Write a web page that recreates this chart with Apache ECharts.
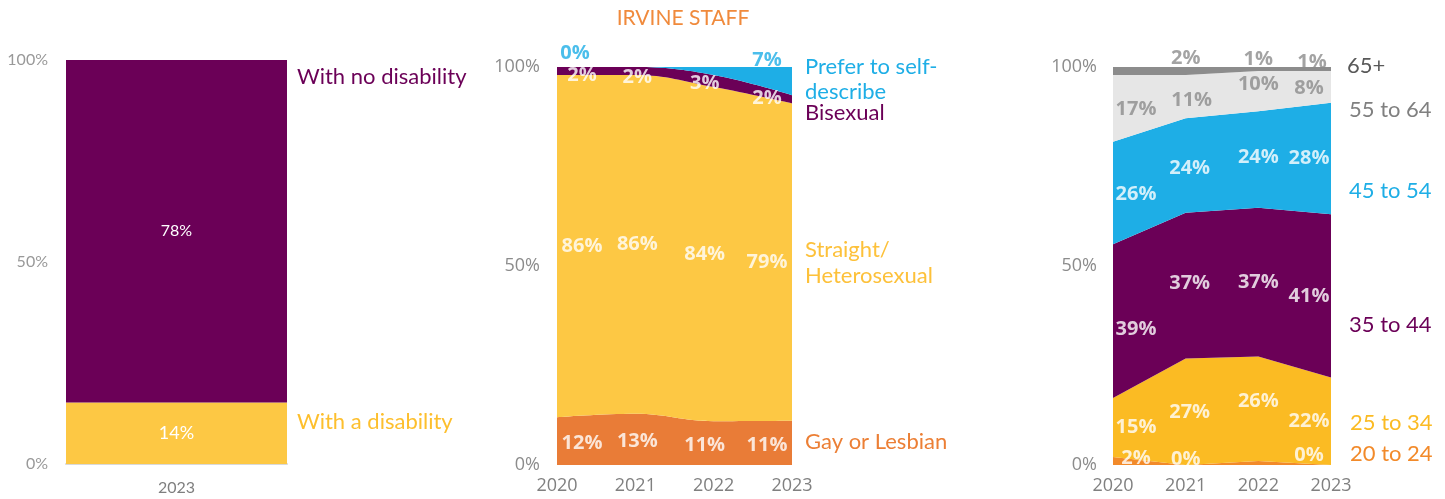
<!DOCTYPE html>
<html>
<head>
<meta charset="utf-8">
<script src="https://cdn.jsdelivr.net/npm/echarts@6/dist/echarts.min.js"></script>
<style>
html,body{margin:0;padding:0;background:#fff;}
#chart{width:1445px;height:499px;}
</style>
</head>
<body>
<div id="chart"></div>
<script>
// ---------- DATA ----------
const disabilityYears = ['2023'];
const withDisability = [14];
const noDisability = [78];

const sexYears = ['2020', '2021', '2022', '2023'];
const gayLesbian = [12, 13, 11, 11];
const straight = [86, 86, 84, 79];
const bisexual = [2, 2, 3, 2];
const selfDescribe = [0, 0, 2, 7];

const ageYears = ['2020', '2021', '2022', '2023'];
const age20to24 = [2, 0, 1, 0];
const age25to34 = [15, 27, 26, 22];
const age35to44 = [39, 37, 37, 41];
const age45to54 = [26, 24, 24, 28];
const age55to64 = [17, 11, 10, 8];
const age65plus = [2, 2, 1, 1];

const yTickValues = [0, 50, 100];

// ---------- STYLE ----------
const PURPLE = '#6b0057', YELLOW = '#fdc844', YELLOW3 = '#fbbb23', ORANGE = '#e97c37',
      ORANGE3 = '#f28a2a', BLUE = '#1eaee6', LGRAY = '#e6e6e6', DGRAY = '#8c8c8c';
const LBL = 'Open Sans';

// normalise each column of a stack to 100%
function normalise(list) {
  const n = list[0].length;
  const sums = [];
  for (let i = 0; i < n; i++) { let s = 0; list.forEach(a => s += a[i]); sums.push(s); }
  return list.map(a => a.map((v, i) => v * 100 / sums[i]));
}

const disN = normalise([withDisability, noDisability]);
const sexRaw = [gayLesbian, straight, bisexual, selfDescribe];
const sexN = normalise(sexRaw);
const ageRaw = [age20to24, age25to34, age35to44, age45to54, age55to64, age65plus];
const ageN = normalise(ageRaw);

// label points at the middle of each band
function midLabels(raw, norm, band, offs, color, size, gridIdx) {
  const data = [];
  for (let i = 0; i < raw[band].length; i++) {
    const o = offs[i];
    if (!o) continue;
    let base = 0;
    for (let b = 0; b < band; b++) base += norm[b][i];
    data.push({
      value: [i, Math.min(100, base + norm[band][i] / 2)],
      label: { offset: [o[0], o[1]], formatter: raw[band][i] + '%' }
    });
  }
  return {
    type: 'scatter', xAxisIndex: gridIdx, yAxisIndex: gridIdx, symbolSize: 1,
    itemStyle: { color: 'rgba(0,0,0,0)' }, silent: true, z: 10, clip: false,
    label: { show: true, position: 'inside', color: color, fontFamily: LBL,
             fontWeight: 'bold', fontSize: size },
    data: data
  };
}

function areaSeries(name, values, color, gridIdx, stack, smooth) {
  return {
    name: name, type: 'line', stack: stack, xAxisIndex: gridIdx, yAxisIndex: gridIdx,
    data: values, symbol: 'none', smooth: smooth, lineStyle: { width: 0 },
    areaStyle: { color: color, opacity: 1 }, itemStyle: { color: color }, silent: true
  };
}

const yAxisBase = (gridIdx, fam, size, color, margin) => ({
  type: 'value', gridIndex: gridIdx, min: 0, max: 100, interval: 50,
  splitLine: { show: false }, axisLine: { show: false }, axisTick: { show: false },
  axisLabel: { formatter: '{value}%', fontFamily: fam, fontSize: size, color: color, margin: margin,
    customValues: yTickValues }
});

const xOff2 = [25, 2, -9, -25];

const legendText = (txt, x, y, color) => ({
  type: 'text', x: x, y: y,
  style: { text: txt, fill: color, font: '22px Lato', textVerticalAlign: 'middle', verticalAlign: 'middle' }
});

const DL = 20; // data label size

const option = {
  animation: false,
  grid: [
    { left: 66, top: 60, width: 221, height: 404 },
    { left: 557, top: 67, width: 235, height: 398 },
    { left: 1113, top: 67, width: 218, height: 398 }
  ],
  xAxis: [
    { type: 'category', gridIndex: 0, data: disabilityYears,
      axisLine: { lineStyle: { color: '#d9d9d9', width: 2 } }, axisTick: { show: false },
      axisLabel: { fontFamily: 'Lato', fontSize: 16, color: '#7f7f7f', margin: 16 } },
    { type: 'category', gridIndex: 1, data: sexYears, boundaryGap: false,
      axisLine: { show: false }, axisTick: { show: false },
      axisLabel: { fontFamily: LBL, fontSize: 18, color: '#808080', margin: 12 } },
    { type: 'category', gridIndex: 2, data: ageYears, boundaryGap: false,
      axisLine: { show: false }, axisTick: { show: false },
      axisLabel: { fontFamily: LBL, fontSize: 18, color: '#808080', margin: 12 } }
  ],
  yAxis: [
    yAxisBase(0, 'Lato', 16, '#999999', 18),
    yAxisBase(1, LBL, 18, '#8c8c8c', 17),
    yAxisBase(2, LBL, 18, '#8c8c8c', 16)
  ],
  series: [
    // ---- chart 1 ----
    { name: 'With a disability', type: 'bar', stack: 'd', xAxisIndex: 0, yAxisIndex: 0,
      barWidth: '100%', data: disN[0], itemStyle: { color: YELLOW }, silent: true,
      label: { show: true, position: 'inside', color: '#fff', fontFamily: 'Lato', fontSize: 18,
        formatter: p => withDisability[p.dataIndex] + '%' } },
    { name: 'With no disability', type: 'bar', stack: 'd', xAxisIndex: 0, yAxisIndex: 0,
      barWidth: '100%', data: disN[1], itemStyle: { color: PURPLE }, silent: true,
      label: { show: true, position: 'inside', color: '#fff', fontFamily: 'Lato', fontSize: 16,
        formatter: p => noDisability[p.dataIndex] + '%' } },
    // ---- chart 2 ----
    areaSeries('Gay or Lesbian', sexN[0], ORANGE, 1, 's', 0.4),
    areaSeries('Straight/Heterosexual', sexN[1], YELLOW, 1, 's', 0.4),
    areaSeries('Bisexual', sexN[2], PURPLE, 1, 's', 0.4),
    areaSeries('Prefer to self-describe', sexN[3], BLUE, 1, 's', 0.4),
    midLabels(sexRaw, sexN, 0, xOff2.map(x => [x, 2]), '#fff', DL, 1),
    midLabels(sexRaw, sexN, 1, xOff2.map(x => [x, 0]), '#fff', DL, 1),
    midLabels(sexRaw, sexN, 2, [[25, 4], [2, 6], [-9, 2], [-25, -1]], '#fff', DL, 1),
    midLabels(sexRaw, sexN, 3, [[18, -14], null, null, [-25, -21]], BLUE, DL, 1),
    // ---- chart 3 ----
    areaSeries('20 to 24', ageN[0], ORANGE3, 2, 'a', false),
    areaSeries('25 to 34', ageN[1], YELLOW3, 2, 'a', false),
    areaSeries('35 to 44', ageN[2], PURPLE, 2, 'a', false),
    areaSeries('45 to 54', ageN[3], BLUE, 2, 'a', false),
    areaSeries('55 to 64', ageN[4], LGRAY, 2, 'a', false),
    areaSeries('65+', ageN[5], DGRAY, 2, 'a', false),
    midLabels(ageRaw, ageN, 0, [[23, -3], [0, -6], null, [-22, -10]], '#fff', DL, 2),
    midLabels(ageRaw, ageN, 1, [[23, 0], [4, 0], [0, -7], [-22, 0]], '#fff', DL, 2),
    midLabels(ageRaw, ageN, 2, [[23, 8], [4, -2], [0, 0], [-22, 0]], '#fff', DL, 2),
    midLabels(ageRaw, ageN, 3, [[23, 1], [4, 3], [0, -2], [-22, 0]], '#fff', DL, 2),
    midLabels(ageRaw, ageN, 4, [[23, 1], [6, 4], [0, -7], [-22, 1]], DGRAY, DL, 2),
    midLabels(ageRaw, ageN, 5, [null, [0, -13], [0, -10], [-19, -7]], DGRAY, DL, 2)
  ],
  graphic: [
    { type: 'text', x: 683, y: 18,
      style: { text: 'IRVINE STAFF', fill: '#f08a3c', font: '21px Lato',
        textAlign: 'center', align: 'center', textVerticalAlign: 'middle', verticalAlign: 'middle' } },
    legendText('With no disability', 297, 77, PURPLE),
    legendText('With a disability', 297, 422, '#fdbf2d'),
    legendText('Prefer to self-', 805, 67, BLUE),
    legendText('describe', 805, 92, BLUE),
    legendText('Bisexual', 805, 113, PURPLE),
    legendText('Straight/', 805, 250, '#fdc13a'),
    legendText('Heterosexual', 805, 276, '#fdc13a'),
    legendText('Gay or Lesbian', 805, 442, '#ec7f35'),
    legendText('65+', 1347, 66, '#595959'),
    legendText('55 to 64', 1349, 110, '#808080'),
    legendText('45 to 54', 1349, 191, BLUE),
    legendText('35 to 44', 1349, 325, PURPLE),
    legendText('25 to 34', 1350, 423, YELLOW3),
    legendText('20 to 24', 1350, 454, ORANGE3)
  ]
};

const chart = echarts.init(document.getElementById('chart'));
chart.setOption(option);
</script>
</body>
</html>
